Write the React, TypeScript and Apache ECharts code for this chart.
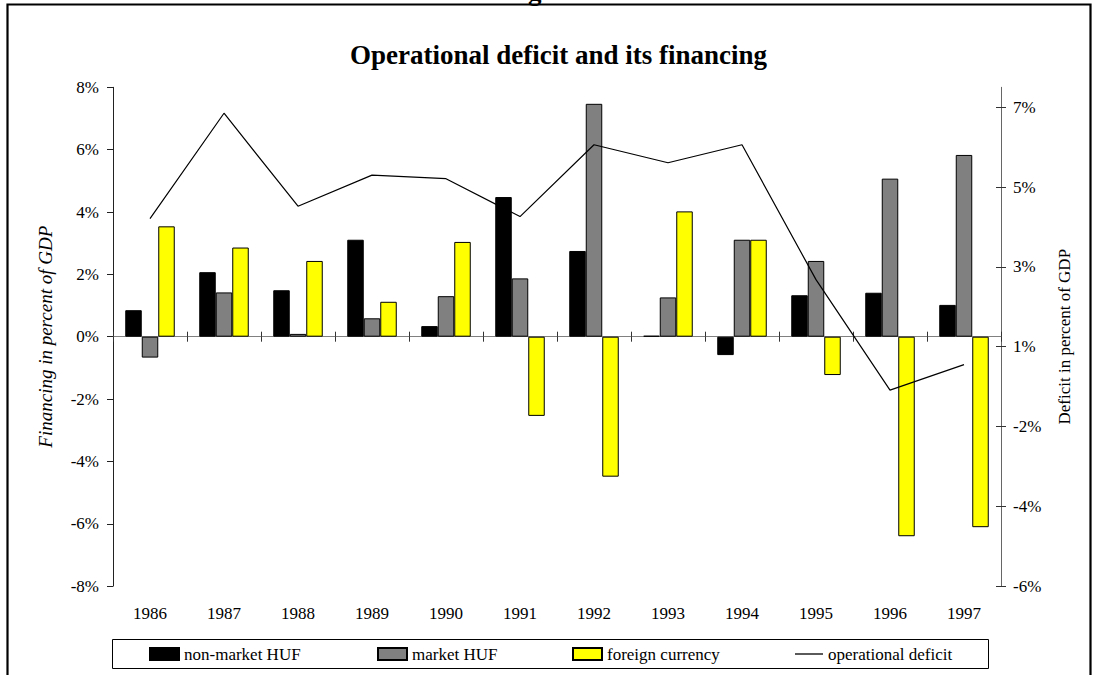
import React, { useEffect, useRef } from 'react';
import * as echarts from 'echarts';

const years = ['1986', '1987', '1988', '1989', '1990', '1991', '1992', '1993', '1994', '1995', '1996', '1997'];
const nonMarketHUF = [0.85, 2.07, 1.49, 3.11, 0.34, 4.48, 2.75, 0.03, -0.59, 1.33, 1.41, 1.02];
const marketHUF = [-0.67, 1.42, 0.09, 0.59, 1.3, 1.87, 7.47, 1.26, 3.11, 2.43, 5.07, 5.83];
const foreignCurrency = [3.54, 2.86, 2.43, 1.12, 3.04, -2.54, -4.49, 4.02, 3.11, -1.23, -6.4, -6.11];
const operationalDeficit = [3.71, 6.35, 4.02, 4.8, 4.71, 3.76, 5.56, 5.11, 5.56, 2.18, -0.59, 0.05];
const rightTicks = [-5.5, -3.5, -1.5, 0.5, 2.5, 4.5, 6.5];

const SERIF = '"Liberation Serif", "Times New Roman", serif';

const roundHalfAway = (v: number) => Math.sign(v) * Math.round(Math.abs(v));

export default function App() {
  const ref = useRef<HTMLDivElement>(null);
  useEffect(() => {
    if (!ref.current) return;
    const chart = echarts.init(ref.current, undefined, { renderer: 'svg' });
    const legendBase = {
      top: 644,
      padding: 0,
      itemWidth: 29,
      itemHeight: 12,
      selectedMode: false,
      textStyle: { fontFamily: SERIF, fontSize: 17, color: '#000', lineHeight: 20 },
    };
    const xBase = {
      type: 'category',
      data: years,
      position: 'bottom',
      boundaryGap: true,
    };
    const rightBase = {
      type: 'value',
      position: 'right',
      min: -5.5,
      max: 7,
      splitLine: { show: false },
    };
    chart.setOption({
      animation: false,
      backgroundColor: '#fff',
      textStyle: { fontFamily: SERIF },
      title: {
        text: 'Operational deficit and its financing',
        left: 350,
        top: 41,
        padding: 0,
        textStyle: { fontFamily: SERIF, fontSize: 27, fontWeight: 'bold', color: '#000' },
      },
      graphic: [
        {
          type: 'text',
          left: 528,
          top: -23,
          z: 0,
          style: { text: 'g', font: 'bold 27px ' + SERIF, fill: '#000' },
        },
        {
          type: 'rect',
          z: 1,
          shape: { x: 7.5, y: 4.5, width: 1083, height: 700 },
          style: { fill: 'none', stroke: '#000', lineWidth: 2.2 },
        },
        {
          type: 'rect',
          z: 1,
          shape: { x: 112.5, y: 639.5, width: 876, height: 29 },
          style: { fill: 'none', stroke: '#000', lineWidth: 1 },
        },
      ],
      legend: [
        { ...legendBase, left: 149, data: [{ name: 'non-market HUF', icon: 'rect' }] },
        { ...legendBase, left: 377, data: [{ name: 'market HUF', icon: 'rect' }] },
        { ...legendBase, left: 572, data: [{ name: 'foreign currency', icon: 'rect' }] },
        {
          ...legendBase,
          left: 795,
          itemWidth: 28,
          itemHeight: 1.3,
          data: [{ name: 'operational deficit', icon: 'rect' }],
        },
      ],
      grid: { left: 113, right: 92, top: 87.3, bottom: 88.9, containLabel: false },
      xAxis: [
        {
          ...xBase,
          axisLine: { show: false, onZero: false },
          axisTick: { show: false },
          axisLabel: { margin: 19, fontFamily: SERIF, fontSize: 17, color: '#000' },
        },
        {
          ...xBase,
          axisLine: { show: true, onZero: true, onZeroAxisIndex: 0, lineStyle: { color: '#808080', width: 1 } },
          axisTick: { show: true, inside: false, length: 5, lineStyle: { color: '#333' } },
          axisLabel: { show: false },
        },
        {
          ...xBase,
          axisLine: { show: true, onZero: true, onZeroAxisIndex: 0, lineStyle: { color: '#808080', width: 1 } },
          axisTick: { show: true, inside: true, length: 5, lineStyle: { color: '#333' } },
          axisLabel: { show: false },
        },
      ],
      yAxis: [
        {
          type: 'value',
          position: 'left',
          min: -8,
          max: 8,
          interval: 2,
          splitLine: { show: false },
          axisLine: { show: true, onZero: false, lineStyle: { color: '#222' } },
          axisTick: { show: true, inside: false, length: 6, lineStyle: { color: '#222' } },
          axisLabel: {
            margin: 14,
            fontFamily: SERIF,
            fontSize: 17,
            color: '#000',
            formatter: (v: number) => v + '%',
          },
          name: 'Financing in percent of GDP',
          nameLocation: 'middle',
          nameRotate: 90,
          nameGap: 58,
          nameTextStyle: { fontFamily: SERIF, fontSize: 19, fontStyle: 'italic', color: '#000' },
        },
        {
          ...rightBase,
          axisLine: { show: true, onZero: false, lineStyle: { color: '#666' } },
          axisTick: { show: true, inside: false, length: 5, customValues: rightTicks, lineStyle: { color: '#333' } },
          axisLabel: {
            margin: 12,
            fontFamily: SERIF,
            fontSize: 17,
            color: '#000',
            customValues: rightTicks,
            formatter: (v: number) => roundHalfAway(v) + '%',
          },
          name: 'Deficit in percent of GDP',
          nameLocation: 'middle',
          nameRotate: 90,
          nameGap: 55,
          nameTextStyle: { fontFamily: SERIF, fontSize: 17, color: '#000' },
        },
        {
          ...rightBase,
          axisLine: { show: false, onZero: false },
          axisTick: { show: true, inside: true, length: 5, customValues: rightTicks, lineStyle: { color: '#333' } },
          axisLabel: { show: false },
        },
      ],
      series: [
        {
          name: 'non-market HUF',
          type: 'bar',
          xAxisIndex: 0,
          yAxisIndex: 0,
          data: nonMarketHUF,
          barWidth: 16.5,
          barGap: '0%',
          itemStyle: { color: '#000000', borderColor: '#000', borderWidth: 1 },
        },
        {
          name: 'market HUF',
          type: 'bar',
          xAxisIndex: 0,
          yAxisIndex: 0,
          data: marketHUF,
          barWidth: 16.5,
          barGap: '0%',
          itemStyle: { color: '#808080', borderColor: '#000', borderWidth: 1 },
        },
        {
          name: 'foreign currency',
          type: 'bar',
          xAxisIndex: 0,
          yAxisIndex: 0,
          data: foreignCurrency,
          barWidth: 16.5,
          barGap: '0%',
          itemStyle: { color: '#ffff00', borderColor: '#000', borderWidth: 1 },
        },
        {
          name: 'operational deficit',
          type: 'line',
          xAxisIndex: 0,
          yAxisIndex: 1,
          data: operationalDeficit,
          symbol: 'none',
          showSymbol: false,
          z: 5,
          color: '#000',
          lineStyle: { color: '#000', width: 1.2 },
          itemStyle: { color: '#000' },
        },
      ],
    });
    return () => chart.dispose();
  }, []);
  return (
    <div
      ref={ref}
      style={{ position: 'absolute', left: 0, top: 0, width: 1093, height: 675 }}
    />
  );
}
